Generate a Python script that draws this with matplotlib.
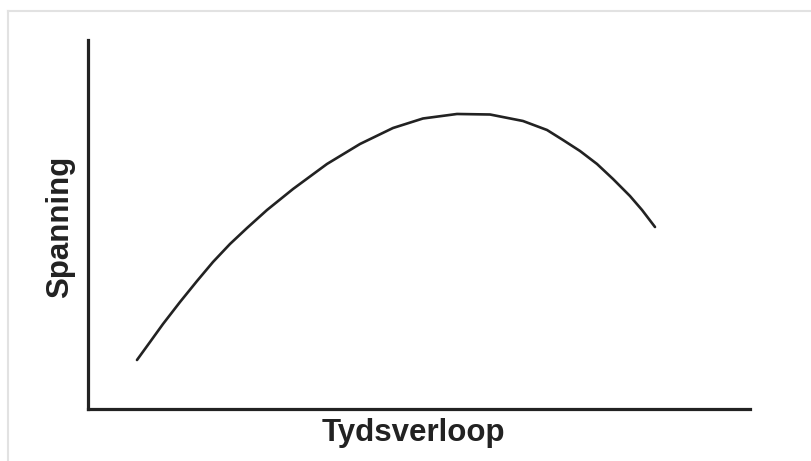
import matplotlib.pyplot as plt
from matplotlib.lines import Line2D

# Data (schematic curve, arbitrary units 0-10)
tijd = [0.740, 0.937, 1.133, 1.390, 1.647, 1.888, 2.145, 2.402, 2.704,
        3.097, 3.610, 4.109, 4.607, 5.060, 5.574, 6.073, 6.571, 6.934,
        7.175, 7.432, 7.689, 7.931, 8.187, 8.369, 8.565]
spanning = [1.328, 1.816, 2.304, 2.900, 3.469, 3.984, 4.472, 4.905, 5.393,
            5.962, 6.640, 7.182, 7.615, 7.873, 7.995, 7.981, 7.805, 7.561,
            7.290, 6.992, 6.640, 6.233, 5.772, 5.393, 4.932]
x_label = "Tydsverloop"
y_label = "Spanning"

plt.rcParams['font.family'] = ['Liberation Sans', 'DejaVu Sans']

fig = plt.figure(figsize=(8.11, 4.61), dpi=100)
ax = fig.add_axes([88 / 811, 52 / 461, 662 / 811, 369 / 461])

ax.plot(tijd, spanning, color='#222222', linewidth=1.9,
        solid_capstyle='round', solid_joinstyle='round')

ax.set_xlim(0, 10)
ax.set_ylim(0, 10)
ax.set_xticks([])
ax.set_yticks([])
for side in ['top', 'right']:
    ax.spines[side].set_visible(False)
for side in ['left', 'bottom']:
    ax.spines[side].set_linewidth(2.3)
    ax.spines[side].set_color('#222222')

fig.text(413 / 811, (461 - 433) / 461, x_label, fontsize=22.5, fontweight='bold',
         color='#222222', ha='center', va='center')
fig.text(60 / 811, (461 - 227) / 461, y_label, fontsize=22.5, fontweight='bold',
         color='#222222', ha='center', va='center', rotation=90)

# light grey frame round the picture (top and left edges)
fig.add_artist(Line2D([8 / 811, 1], [1 - 11 / 461, 1 - 11 / 461],
                      color='#e2e2e2', linewidth=1.5, transform=fig.transFigure))
fig.add_artist(Line2D([8 / 811, 8 / 811], [0, 1 - 11 / 461],
                      color='#e2e2e2', linewidth=1.5, transform=fig.transFigure))

fig.savefig('out.png', dpi=100)
